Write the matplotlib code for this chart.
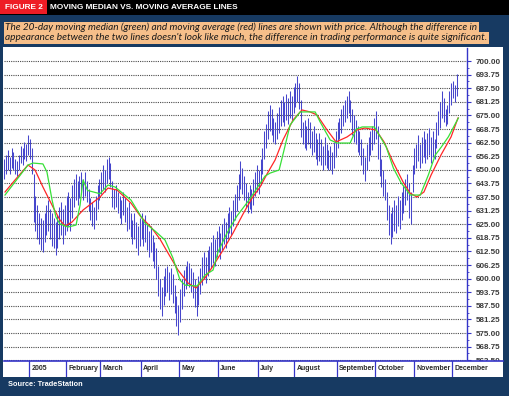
import numpy as np
import pandas as pd
import matplotlib
matplotlib.use('Agg')
import matplotlib.pyplot as plt
from matplotlib.patches import Rectangle

# ---------------- data ----------------
holidays = ['2004-12-24', '2005-01-17', '2005-02-21', '2005-03-25', '2005-05-30',
            '2005-07-04', '2005-09-05', '2005-11-24']
dates = pd.bdate_range('2004-12-13', '2005-12-05')
dates = dates[~dates.isin(pd.to_datetime(holidays))]

highs = [655, 657, 659, 656, 660, 658, 655, 654, 657, 661, 660, 663, 662, 666, 664, 660, 648, 638, 634, 630,
         628, 627, 630, 634, 636, 632, 630, 628, 626, 629, 633, 635, 632, 634, 638, 640, 637, 643, 646, 648,
         645, 647, 649, 646, 649, 645, 641, 637, 635, 633, 638, 643, 646, 649, 652, 650, 655, 656, 653, 645,
         641, 643, 640, 638, 636, 640, 637, 633, 635, 630, 627, 630, 626, 624, 628, 630, 627, 629, 625, 622,
         624, 620, 617, 614, 606, 600, 596, 601, 605, 606, 603, 605, 602, 597, 592, 588, 595, 600, 604, 606,
         608, 607, 605, 603, 600, 597, 601, 605, 610, 612, 610, 613, 615, 617, 620, 618, 622, 624, 621, 625,
         628, 626, 630, 633, 631, 636, 639, 643, 648, 654, 651, 647, 644, 640, 643, 641, 646, 649, 652, 650,
         655, 660, 668, 671, 677, 680, 678, 674, 672, 676, 679, 682, 684, 681, 685, 683, 686, 684, 688, 690,
         693, 690, 682, 672, 673, 670, 674, 672, 668, 670, 667, 664, 667, 664, 661, 665, 662, 659, 661, 658,
         663, 668, 672, 674, 678, 680, 682, 684, 686, 682, 678, 675, 673, 670, 668, 664, 660, 656, 662, 665,
         668, 670, 674, 677, 670, 662, 655, 650, 646, 640, 634, 630, 633, 636, 634, 638, 636, 640, 643, 646,
         648, 644, 640, 652, 660, 662, 666, 662, 665, 668, 664, 667, 669, 665, 668, 664, 672, 677, 681, 686,
         683, 678, 680, 686, 690, 691, 689, 694]
lows = [646, 648, 650, 648, 651, 650, 648, 647, 650, 653, 652, 655, 654, 657, 655, 648, 626, 622, 618, 616,
        613, 612, 617, 620, 622, 618, 615, 614, 611, 614, 618, 620, 616, 620, 622, 624, 622, 628, 633, 636,
        634, 637, 639, 636, 638, 635, 631, 627, 624, 623, 627, 632, 636, 639, 641, 640, 644, 646, 642, 633,
        632, 633, 630, 628, 625, 629, 626, 622, 623, 619, 616, 618, 614, 611, 615, 618, 615, 617, 613, 610,
        612, 608, 605, 600, 592, 586, 583, 588, 592, 594, 590, 593, 589, 584, 578, 574, 580, 586, 592, 595,
        597, 596, 594, 591, 587, 583, 588, 593, 597, 600, 598, 601, 603, 605, 607, 606, 610, 612, 609, 613,
        616, 614, 618, 621, 620, 624, 627, 631, 636, 641, 639, 636, 633, 630, 632, 630, 634, 638, 640, 639,
        643, 648, 655, 660, 664, 668, 666, 663, 662, 664, 667, 670, 672, 670, 673, 671, 674, 673, 676, 679,
        681, 678, 665, 662, 660, 659, 662, 660, 657, 658, 655, 652, 654, 652, 650, 652, 651, 650, 650, 648,
        651, 656, 660, 664, 667, 670, 672, 674, 676, 672, 666, 663, 662, 658, 657, 652, 648, 645, 650, 654,
        657, 659, 662, 664, 655, 647, 642, 638, 636, 627, 620, 616, 619, 622, 621, 624, 623, 627, 630, 634,
        636, 628, 625, 640, 648, 651, 654, 651, 653, 656, 653, 655, 657, 653, 656, 655, 660, 666, 669, 674,
        672, 670, 671, 676, 680, 683, 681, 684]

# 20-day moving average (red): bar index / price
ma_x = [0.4, 5.85, 12.95, 16.8, 21.1, 26.6, 30.4, 33.2, 37.0, 43.0, 52.3, 56.6, 61.6, 69.2, 74.7, 80.1, 85.0,
        89.4, 94.9, 100.3, 104.7, 109.6, 114.0, 119.5, 124.9, 130.4, 135.3, 139.7, 143.5, 147.9, 152.2, 157.7,
        162.6, 167.0, 170.8, 176.3, 181.2, 187.2, 192.6, 197.0, 203.0, 207.4, 212.3, 217.8, 221.6, 225.4,
        229.2, 233.1, 238.5, 244.0, 247.8]
ma_y = [639.8, 645.3, 652.2, 649.9, 642.1, 632.9, 626.9, 624.2, 626.0, 631.5, 637.5, 641.6, 640.7, 634.7, 628.3,
        623.7, 618.2, 611.8, 603.9, 598.0, 595.7, 600.3, 605.8, 613.1, 620.9, 629.7, 637.0, 642.1, 648.1, 654.5,
        663.7, 672.9, 677.5, 676.6, 675.2, 668.3, 662.8, 665.1, 668.3, 669.2, 668.3, 662.8, 653.6, 644.4, 639.3,
        637.5, 639.8, 647.6, 656.8, 665.1, 673.8]
# 20-day moving median (green)
med_x = [0.4, 5.85, 12.95, 15.7, 21.1, 23.3, 26.1, 28.2, 30.4, 34.8, 39.2, 41.4, 43.0, 45.5, 52.3, 56.6, 60.5,
         69.2, 76.9, 82.3, 87.8, 92.1, 96.0, 98.7, 105.3, 109.6, 114.0, 116.7, 121.6, 127.1, 133.7, 139.1, 142.4,
         145.2, 150.1, 152.8, 156.1, 161.6, 169.8, 172.5, 178.0, 181.8, 188.9, 192.2, 195.5, 202.1, 205.4, 208.6,
         212.5, 216.8, 221.8, 227.2, 231.6, 235.4, 238.7, 242.5, 248.0]
med_y = [638.4, 644.4, 652.2, 653.1, 652.7, 649.0, 636.1, 628.3, 625.1, 623.7, 624.6, 633.8, 645.3, 640.5, 639.0,
         643.0, 642.1, 636.1, 625.5, 621.9, 617.7, 609.5, 599.3, 597.0, 596.6, 601.6, 603.9, 612.2, 620.9, 628.8,
         636.1, 643.0, 647.1, 648.5, 649.9, 659.1, 670.6, 676.6, 676.6, 672.0, 663.7, 662.3, 662.3, 668.7, 669.7,
         669.7, 665.1, 660.5, 650.8, 643.9, 638.4, 638.4, 647.6, 656.8, 660.5, 665.1, 673.8]

month_labels = ['2005', 'February', 'March', 'April', 'May', 'June', 'July', 'August',
                'September', 'October', 'November', 'December']
price_ticks = np.arange(562.5, 700.01, 6.25)

title_txt = 'MOVING MEDIAN VS. MOVING AVERAGE LINES'
fig_txt = 'FIGURE 2'
caption1 = ('The 20-day moving median (green) and moving average (red) lines are shown with price. '
            'Although the difference in')
caption2 = ("appearance between the two lines doesn't look like much, the difference in trading "
            "performance is quite significant.")
source_txt = 'Source: TradeStation'

# ---------------- layout ----------------
W, H = 509, 396
fig = plt.figure(figsize=(W / 100, H / 100), dpi=100)
NAVY = '#173a62'
BLUE = '#3535c8'
fig.patch.set_facecolor(NAVY)


def fx(px):
    return px / W


def fy(py):
    return 1 - py / H


def rect(x0, y0, x1, y1, color, z=0):
    fig.add_artist(Rectangle((fx(x0), fy(y1)), (x1 - x0) / W, (y1 - y0) / H,
                             transform=fig.transFigure, facecolor=color, edgecolor='none', zorder=z))


rect(0, 0, W, 15, 'black')
rect(0, 0, 47, 14, '#ee1c25')
rect(3, 47, 503, 377, 'white')

fig.canvas.draw()
rend = fig.canvas.get_renderer()


def fit(t, target_w):
    bb = t.get_window_extent(rend)
    t.set_fontsize(t.get_fontsize() * target_w / bb.width)


t = fig.text(fx(24), fy(7.5), fig_txt, color='white', fontweight='bold', fontsize=6,
             family='Liberation Sans', ha='center', va='center')
fit(t, 38)
t = fig.text(fx(50), fy(7.5), title_txt, color='white', fontweight='bold', fontsize=6,
             family='Liberation Sans', ha='left', va='center')
fit(t, 188)

for txt, yc, wtarget, (ya, yb) in [(caption1, 27.2, 475, (22, 32.5)), (caption2, 37.8, 481, (32.5, 43.5))]:
    t = fig.text(fx(5), fy(yc), txt, color='#1a1a1a', fontstyle='italic', fontsize=6,
                 family=['Lato', 'DejaVu Sans'], ha='left', va='center', zorder=3)
    fit(t, wtarget)
    bb = t.get_window_extent(rend)
    rect(4, ya, bb.x1 + 1.5, yb, '#f6bf8a', z=2)

t = fig.text(fx(8), fy(385), source_txt, color='white', fontweight='bold', fontsize=5.5,
             family='Liberation Sans', ha='left', va='center')
fit(t, 75)

# index <-> pixel
PX_PER_BAR = 1.831
jan_idx = int(np.argmax(dates.month == 1))


def idx_of_px(px):
    return jan_idx - 0.5 + (px - 29) / PX_PER_BAR


def price_of_py(py):
    return 700 - (py - 61) * 6.25 / 13.6


# main axes
L, R, T, B = 4, 467, 48, 361
ax = fig.add_axes([fx(L), fy(B), (R - L) / W, (B - T) / H])
ax.set_facecolor('white')
ax.set_xlim(idx_of_px(L), idx_of_px(R))
ax.set_ylim(price_of_py(B), price_of_py(T))

idx = np.arange(len(highs))
ax.vlines(idx, lows, highs, color='#4646cc', lw=0.75, zorder=3)
ax.plot(ma_x, ma_y, color='#ff2626', lw=0.9, zorder=4)
ax.plot(med_x, med_y, color='#38e038', lw=0.9, zorder=4)

ax.yaxis.tick_right()
ax.set_yticks(price_ticks)
ax.set_yticks(price_ticks[:-1] + 3.125, minor=True)
ax.set_yticklabels([f'{v:.2f}' for v in price_ticks])
ax.tick_params(axis='y', which='major', length=3, width=0.8, color=BLUE, pad=3,
               labelsize=5.8, labelcolor='#3a3a3a')
ax.tick_params(axis='y', which='minor', length=1.5, width=0.6, color=BLUE)
for lab in ax.get_yticklabels():
    lab.set_fontweight('bold')
    lab.set_family('Liberation Sans')
ax.set_xticks([])
ax.grid(axis='y', which='major', ls=(0, (1, 1)), color='#4a4a4a', lw=0.8)
ax.set_axisbelow(True)
for s in ['left', 'top', 'bottom']:
    ax.spines[s].set_visible(False)
ax.spines['right'].set_color(BLUE)
ax.spines['right'].set_linewidth(1.0)

# month row
R2 = 503
axm = fig.add_axes([fx(L), fy(377), (R2 - L) / W, (377 - B) / H])
axm.set_facecolor('white')
axm.set_xlim(idx_of_px(L), idx_of_px(R2))
axm.set_ylim(0, 1)
axm.set_xticks([])
axm.set_yticks([])
for s in axm.spines.values():
    s.set_visible(False)
axm.axhline(1, color=BLUE, lw=1.2, clip_on=False)
month_starts = [i for i in range(1, len(dates)) if dates[i].month != dates[i - 1].month]
for k, ms in enumerate(month_starts):
    axm.axvline(ms - 0.5, color=BLUE, lw=0.9)
    axm.text(ms - 0.5 + 2.5 / PX_PER_BAR, 0.5, month_labels[k], fontsize=5, fontweight='bold',
             family='Liberation Sans', color='#2a2a2a', ha='left', va='center')

fig.savefig('out.png', dpi=100, facecolor=fig.get_facecolor())
